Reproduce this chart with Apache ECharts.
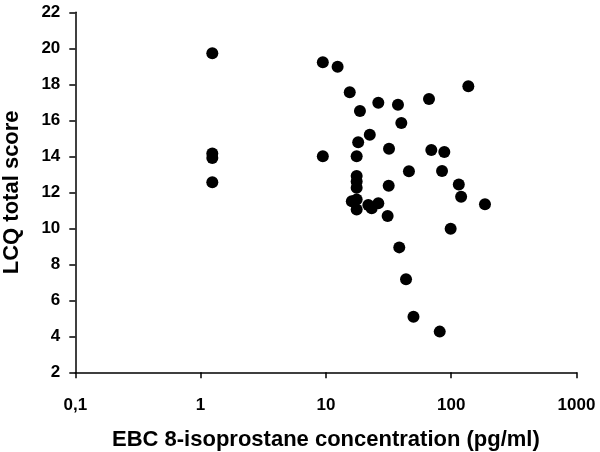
<!DOCTYPE html>
<html>
<head>
<meta charset="utf-8">
<script src="https://cdn.jsdelivr.net/npm/echarts@6/dist/echarts.min.js"></script>
<style>html,body{margin:0;padding:0;background:#fff}#c{width:600px;height:452px}</style>
</head>
<body>
<div id="c"></div>
<script>
// EBC 8-isoprostane concentration (pg/ml)
const isoprostane = [1.24,1.24,1.24,1.24,9.45,12.4,15.5,9.45,26.2,37.6,66.5,137,18.7,40,22.4,18.1,31.9,69.4,88.1,17.6,46,84.5,17.6,17.6,17.6,31.7,115,120,186,17.6,16.1,17.6,21.8,23.2,26.2,31.1,99,38.5,43.6,50,81];
// LCQ total score
const lcqScore = [19.72,14.15,13.9,12.56,19.22,18.98,17.56,14.0,16.98,16.87,17.18,17.89,16.52,15.85,15.2,14.78,14.42,14.35,14.24,14.0,13.17,13.18,12.9,12.6,12.25,12.36,12.43,11.75,11.33,11.6,11.5,11.05,11.3,11.12,11.39,10.68,9.98,8.94,7.17,5.08,4.26];
const xTickLabels = {0.1:'0,1',1:'1',10:'10',100:'100',1000:'1000'};

const points = isoprostane.map((v,i)=>[v,lcqScore[i]]);
const font = 'Liberation Sans, Arial, sans-serif';
const chart = echarts.init(document.getElementById('c'), null, {renderer:'canvas'});
chart.setOption({
  animation:false,
  backgroundColor:'#fff',
  grid:{left:75.3,right:23.5,top:12.3,bottom:79.7,containLabel:false,outerBoundsMode:'none'},
  xAxis:{
    type:'log', logBase:10, min:0.1, max:1000,
    name:'EBC 8-isoprostane concentration (pg/ml)',
    nameLocation:'middle', nameGap:57,
    nameTextStyle:{fontFamily:font,fontWeight:'bold',fontSize:22,color:'#000'},
    axisLine:{lineStyle:{color:'#000',width:1.5}},
    axisTick:{show:true,length:6,lineStyle:{color:'#000',width:1.5}},
    minorTick:{show:false},
    splitLine:{show:false},
    axisLabel:{margin:25,fontFamily:font,fontWeight:'bold',fontSize:17,color:'#000',
      formatter:v=>{const k=Math.round(Math.log10(v));const key=Math.pow(10,k);return xTickLabels[key]!==undefined?xTickLabels[key]:String(v);}}
  },
  yAxis:{
    type:'value', min:2, max:22, interval:2,
    name:'LCQ total score',
    nameLocation:'middle', nameGap:52,
    nameTextStyle:{fontFamily:font,fontWeight:'bold',fontSize:22,color:'#000'},
    axisLine:{show:true,lineStyle:{color:'#000',width:1.5}},
    axisTick:{show:true,length:6,lineStyle:{color:'#000',width:1.5}},
    splitLine:{show:false},
    axisLabel:{margin:15,fontFamily:font,fontWeight:'bold',fontSize:17,color:'#000'}
  },
  series:[{
    type:'scatter',
    data:points,
    symbol:'circle',
    symbolSize:12,
    itemStyle:{color:'#000',opacity:1}
  }]
});
</script>
</body>
</html>
